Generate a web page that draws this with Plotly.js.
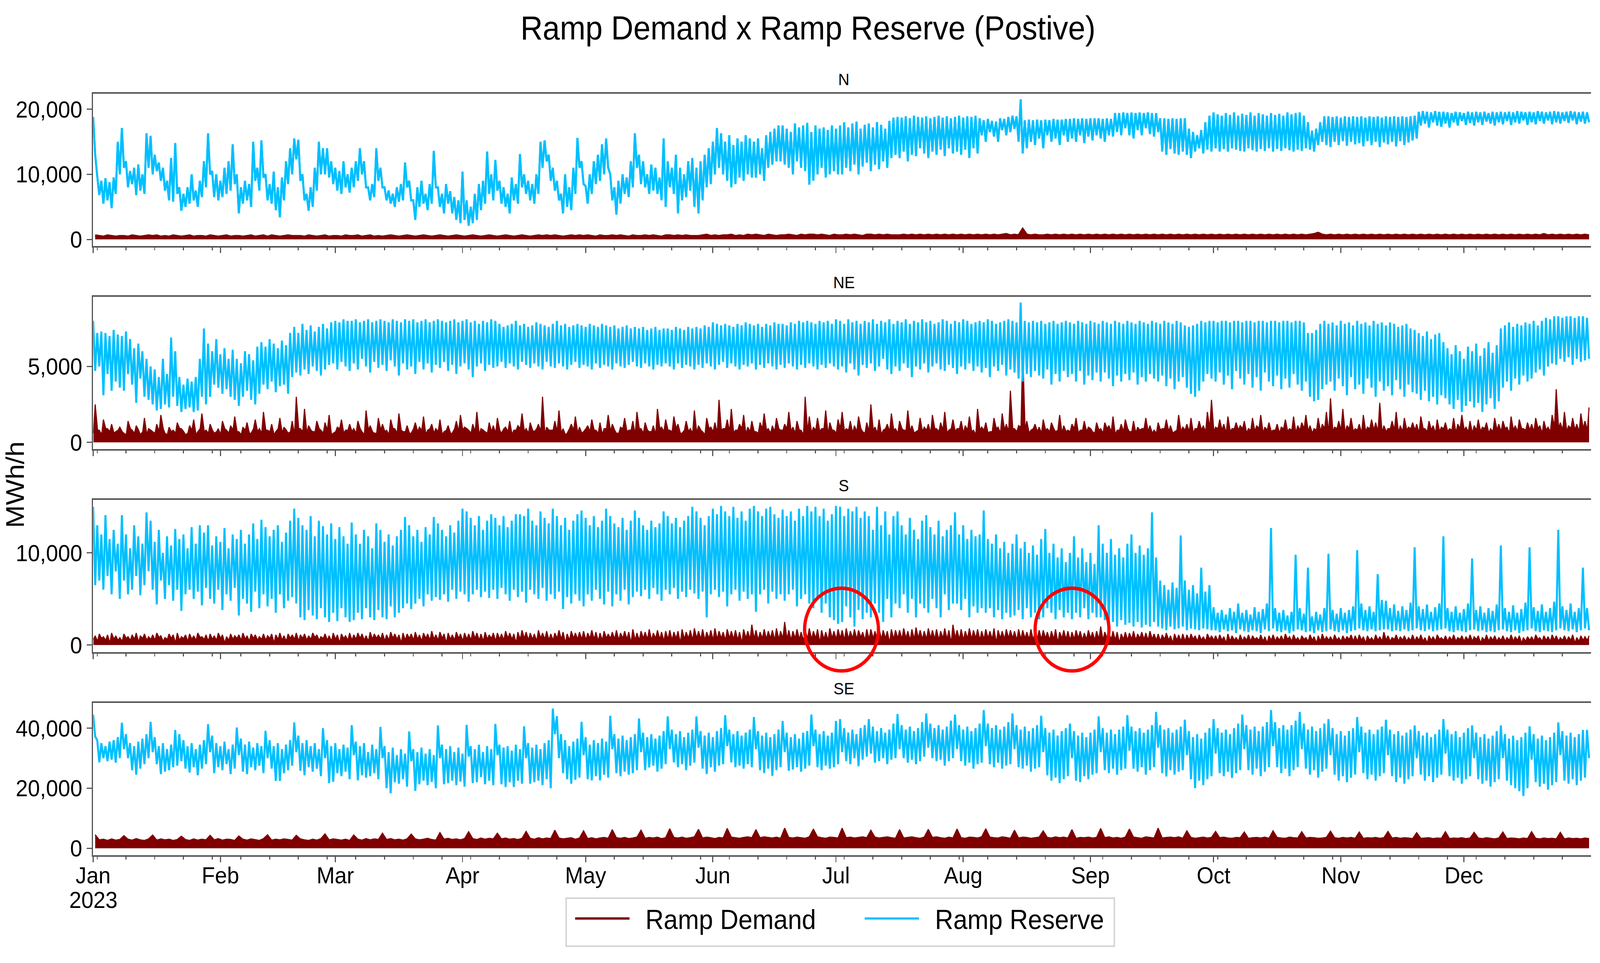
<!DOCTYPE html>
<html>
<head>
<meta charset="utf-8">
<script src="https://cdn.plot.ly/plotly-3.0.1.min.js"></script>
<style>
html,body{margin:0;padding:0;background:#fff;overflow:hidden;}
#wrap{position:absolute;left:0;top:0;width:100vw;height:100vh;overflow:hidden;background:#fff;}
#chart{width:4415px;height:2466px;transform-origin:0 0;}
</style>
</head>
<body>
<div id="wrap"><div id="chart"></div></div>
<script>
// ---- DATA (values in hundreds of MWh/h) ----
// Ramp Reserve: two readings per day (daily high, daily low), weekly rows starting Sun 2023-01-01
const nBlue = [
188,130,97,68,90,55,94,60,88,48,95,70,150,100,
171,110,120,80,105,85,110,68,115,75,100,70,163,110,
159,100,130,105,118,90,110,75,90,60,125,58,148,70,
80,44,70,50,80,55,100,60,75,50,90,65,120,80,
163,100,105,65,100,60,90,65,110,70,120,75,146,85,
100,40,80,55,90,60,85,50,150,90,110,75,152,95,
100,60,85,55,104,45,80,34,95,60,120,85,140,100,
155,123,153,90,100,60,70,44,80,50,110,75,150,100,
140,100,140,95,120,85,110,75,105,70,120,80,100,72,
110,80,120,90,140,100,120,80,80,60,85,65,140,90,
110,80,80,60,75,55,70,50,80,58,85,60,118,80,
90,60,60,30,80,50,90,55,70,45,85,55,136,80,
80,50,70,40,85,55,74,40,65,30,60,25,104,30,
60,21,50,25,70,30,85,45,90,55,135,70,100,60,
122,75,90,55,80,50,70,40,95,60,85,55,131,80,
100,70,90,60,85,55,100,70,150,110,152,120,130,90,
110,75,90,60,70,40,100,50,80,45,110,70,156,110,
120,85,82,55,100,70,120,85,130,90,146,100,155,110,
100,60,80,38,90,55,100,70,95,65,120,80,163,110,
130,85,120,80,100,70,115,75,110,70,95,60,155,50,
120,80,110,70,130,40,110,60,100,65,120,75,125,50,
110,40,120,60,130,80,140,85,150,100,171,110,163,100,
150,90,160,80,145,85,155,95,150,90,160,100,155,95,
150,95,155,100,140,90,160,110,165,115,170,120,175,120,
175,115,170,110,165,100,178,120,172,110,175,105,179,84,
165,90,175,100,170,110,172,95,168,100,175,105,170,100,
175,100,180,110,172,105,178,115,181,100,170,112,176,118,
178,105,172,115,180,108,176,120,170,110,182,125,187,130,
188,125,187,135,189,120,186,130,190,128,188,140,187,132,
189,125,186,135,188,130,190,138,187,128,189,140,186,132,
188,135,190,130,187,138,189,125,188,140,190,132,186,160,
183,150,185,165,182,158,181,150,186,168,185,160,188,165,
190,170,189,150,215,132,183,140,184,150,183,145,184,155,
183,140,184,160,183,150,185,155,184,145,184,160,185,150,
185,155,186,150,185,160,186,148,185,158,186,152,186,160,
186,155,185,150,186,160,185,158,194,165,194,160,195,171,
194,160,195,155,194,168,195,160,194,171,195,162,194,158,
194,165,186,135,186,130,185,139,186,132,185,130,186,135,
186,130,170,125,165,135,160,140,168,132,180,138,190,135,
195,140,192,135,190,139,194,135,191,140,195,138,190,136,
193,135,191,140,195,137,190,135,194,139,192,136,190,140,
194,135,191,139,193,136,190,140,195,137,192,135,194,138,
195,136,190,140,180,138,167,135,170,145,180,150,189,145,
189,142,188,150,189,145,187,151,189,144,188,150,189,146,
188,148,189,143,187,151,189,145,188,150,189,142,187,149,
189,146,188,150,189,143,188,151,189,145,188,149,189,152,
190,155,196,175,197,178,196,172,195,180,197,175,196,173,
196,178,195,172,194,180,196,175,195,182,194,176,196,179,
195,175,196,180,195,176,196,181,194,178,196,175,195,180,
196,177,195,182,196,176,195,180,197,178,196,183,195,176,
196,180,195,177,197,182,196,178,195,183,196,177,197,180,
196,178,195,182,196,179,197,183,196,177,195,181,196,178,
195,180
];
const neBlue = [
80,47,72,50,73,31,72,45,70,34,74,40,71,36,
70,34,73,45,68,38,62,26,65,42,60,30,55,28,
50,25,48,21,43,22,55,25,45,23,69,30,60,24,
43,20,38,22,42,23,40,20,43,21,55,30,75,25,
65,30,60,38,68,36,58,32,62,35,55,30,61,28,
55,24,52,30,60,34,58,28,54,25,63,32,66,38,
63,35,68,40,65,33,62,37,67,38,64,32,72,43,
76,46,72,44,78,48,74,45,77,50,73,47,76,44,
78,48,75,51,79,52,80,48,79,53,81,50,80,47,
80,52,81,48,79,55,80,50,81,46,79,53,80,49,
81,51,80,47,79,54,81,50,80,44,79,52,81,48,
80,50,81,45,79,53,80,48,81,52,79,46,80,51,
81,49,80,53,79,47,80,51,81,45,79,50,80,52,
81,48,79,43,80,50,78,52,80,47,79,51,81,49,
80,50,78,53,76,49,77,52,78,50,80,48,77,53,
78,51,76,49,77,52,79,50,78,48,77,53,76,50,
78,49,80,52,77,50,78,48,76,51,77,53,78,49,
77,51,76,50,78,48,77,52,76,49,78,51,77,50,
76,48,77,52,75,50,76,49,77,51,75,53,76,50,
75,49,76,52,74,50,75,48,76,51,74,50,75,52,
75,50,74,48,76,52,75,49,74,51,76,50,75,48,
76,51,75,49,77,52,76,50,79,48,78,51,77,53,
78,49,77,52,76,50,78,48,77,51,79,50,78,52,
77,48,78,51,76,49,78,52,77,50,79,48,78,51,
78,49,77,52,79,50,78,48,80,51,79,49,80,52,
79,50,78,48,80,51,79,49,80,52,78,50,81,48,
80,50,78,46,81,52,79,48,80,44,78,51,80,49,
79,52,81,47,78,50,80,55,79,48,81,45,78,50,
80,47,79,52,81,49,78,43,80,50,79,48,81,52,
79,46,80,50,78,52,79,48,81,47,80,51,78,49,
80,45,79,50,81,48,80,52,78,47,79,50,80,46,
79,49,81,43,80,50,78,47,79,51,80,44,81,48,
80,46,79,42,92,40,80,45,79,43,80,47,79,44,
80,42,78,48,79,38,80,45,78,40,79,47,80,43,
79,45,78,40,80,47,79,38,78,44,80,41,79,46,
78,40,80,46,79,42,78,37,80,44,79,40,78,45,
80,41,79,46,78,38,80,43,79,40,78,45,80,42,
79,40,78,44,80,37,79,42,78,35,80,40,79,43,
77,36,76,32,77,30,78,34,80,40,79,45,80,42,
80,40,79,46,80,38,80,44,79,35,80,47,80,42,
79,38,80,45,80,36,79,43,80,34,80,46,79,40,
80,37,80,44,79,35,80,42,80,36,79,45,80,38,
80,34,79,40,72,30,72,27,74,28,78,35,80,38,
78,40,79,34,77,42,80,37,78,31,79,43,77,35,
80,38,78,32,79,42,77,36,80,30,78,40,79,34,
77,37,79,31,78,41,76,35,77,30,78,38,75,33,
74,32,72,28,70,34,73,27,68,30,71,25,72,31,
66,29,62,25,58,22,64,28,60,20,55,24,63,27,
60,23,65,26,57,20,62,25,66,29,59,22,64,27,
75,36,77,40,79,34,76,42,78,38,77,44,79,40,
78,42,80,46,77,48,80,44,82,50,81,52,83,51,
83,55,82,53,83,56,83,51,82,55,83,53,83,54,
82,55
];
const sBlue = [
150,65,130,70,120,60,141,75,115,55,125,80,110,50,
141,70,120,55,105,60,130,75,118,54,110,65,144,80,
135,60,112,44,125,70,100,50,118,65,108,48,126,60,
115,37,120,55,105,60,128,50,110,58,130,43,122,62,
130,50,108,45,118,60,112,38,127,55,105,48,120,62,
115,32,125,50,110,45,120,36,132,58,115,40,136,55,
128,42,118,50,125,35,130,55,112,40,122,48,135,52,
148,45,138,30,130,27,125,38,140,32,118,28,135,40,
129,30,120,25,132,35,115,26,128,40,118,30,110,25,
133,27,120,35,110,28,125,40,118,30,105,27,132,38,
125,30,112,28,120,42,108,30,118,35,125,40,139,45,
130,39,118,45,125,50,112,42,128,55,120,48,139,52,
132,49,125,55,118,47,130,60,122,50,135,58,148,55,
145,47,138,55,130,60,140,52,125,58,135,51,142,60,
138,50,130,62,140,55,128,48,135,60,142,52,142,58,
140,46,148,60,135,55,130,50,145,62,138,48,132,55,
148,50,140,58,130,39,138,52,125,45,135,55,142,48,
146,42,138,55,130,48,140,60,128,50,135,44,148,58,
140,42,132,55,128,48,138,60,125,44,135,52,146,58,
138,53,130,60,125,50,135,62,128,55,132,48,145,60,
140,55,132,62,138,50,128,58,135,52,140,60,150,56,
145,50,138,58,130,30,140,55,148,60,142,52,151,58,
145,42,140,55,150,60,138,48,145,58,135,50,148,55,
151,36,145,55,140,60,148,45,150,58,142,50,138,55,
147,48,140,55,145,60,135,42,148,50,140,55,151,45,
145,40,150,50,140,35,148,45,135,30,142,27,151,23,
150,25,140,42,148,30,145,20,150,38,138,28,145,35,
140,30,125,45,150,35,130,25,145,50,120,30,140,45,
145,40,130,55,120,35,138,50,125,30,115,45,135,40,
141,35,128,50,120,40,135,30,118,55,125,38,130,45,
144,45,120,38,130,50,115,30,125,42,118,35,120,40,
146,35,115,40,110,30,120,38,105,28,112,35,100,30,
110,32,120,38,105,28,112,40,100,30,108,35,98,28,
115,30,126,40,100,35,110,28,95,38,105,30,90,35,
100,28,118,35,95,30,105,40,90,28,100,35,88,30,
130,30,110,27,100,22,115,25,98,20,105,27,95,22,
110,24,120,20,100,25,108,19,98,22,105,20,144,25,
95,20,70,18,65,16,60,20,68,17,62,18,119,20,
70,16,60,18,65,17,56,16,84,18,58,17,65,16,
41,16,35,14,38,17,33,15,40,16,36,13,45,17,
35,15,38,14,33,16,41,15,36,13,39,17,45,15,
127,18,40,15,35,14,38,16,32,13,36,15,98,17,
40,16,34,14,84,15,31,13,36,16,33,14,40,15,
99,17,38,15,34,14,40,16,35,13,38,15,42,16,
103,18,45,16,38,15,42,17,36,15,77,16,49,17,
48,17,40,15,44,16,37,15,42,17,38,15,46,16,
106,18,42,16,39,15,44,17,36,15,41,16,45,17,
118,18,40,15,36,14,42,16,35,15,39,14,45,16,
94,17,38,15,42,16,35,14,40,15,37,14,44,16,
108,17,40,15,36,14,43,16,35,13,39,15,46,16,
106,18,41,15,37,14,44,16,36,15,40,14,47,16,
125,18,42,16,38,15,45,17,36,14,40,16,84,18,
40,16
];
const seBlue = [
445,372,360,286,350,300,340,290,355,295,360,285,370,300,
418,330,380,300,350,260,340,245,355,265,365,280,380,300,
421,320,370,280,340,247,350,255,330,260,345,270,394,275,
380,290,360,265,340,252,350,270,330,243,345,265,360,280,
413,320,375,250,350,270,340,260,355,280,330,247,345,265,
402,310,365,255,345,247,355,270,335,260,350,275,340,250,
391,300,360,265,340,224,350,224,330,250,345,260,360,275,
419,320,375,258,350,243,360,270,340,255,350,265,330,240,
400,300,360,217,340,221,350,250,330,240,345,255,335,230,
410,310,355,226,340,243,350,235,320,240,345,250,330,230,
404,300,340,200,320,183,335,220,310,215,330,230,315,205,
389,290,330,191,320,213,335,225,315,210,330,221,310,200,
409,300,345,213,330,217,340,225,320,210,335,222,315,205,
411,305,340,217,330,220,345,237,320,213,340,225,330,210,
414,310,345,213,335,204,340,220,325,204,345,225,330,215,
406,300,350,215,335,220,345,225,330,210,350,230,360,200,
465,380,440,300,380,250,360,230,340,215,355,228,365,235,
421,310,370,230,345,226,360,240,350,226,365,245,355,235,
441,330,380,250,365,240,375,255,360,245,370,250,380,260,
432,320,385,260,370,269,380,275,365,255,375,265,390,280,
439,330,395,286,380,270,390,280,370,260,385,275,395,285,
439,335,390,265,375,247,385,270,370,255,390,275,400,280,
443,340,395,286,380,270,390,275,375,265,385,280,395,270,
437,330,390,260,375,250,385,265,370,241,380,260,395,270,
424,320,385,258,370,262,380,270,365,255,385,265,390,275,
445,340,395,270,380,260,390,275,375,265,385,270,424,280,
430,320,400,290,385,280,395,300,380,273,400,295,410,305,
430,315,405,285,390,290,400,300,385,280,395,295,415,300,
447,330,410,300,395,285,405,295,390,280,400,290,420,305,
449,335,415,300,400,290,410,295,395,275,405,290,425,300,
445,330,410,290,395,275,405,285,390,265,400,280,415,285,
460,340,415,280,400,270,410,285,395,265,405,275,420,280,
449,330,410,270,395,265,405,275,390,255,400,265,410,270,
441,320,400,243,385,225,395,235,375,217,390,230,400,240,
415,300,390,225,375,220,385,240,370,230,385,245,395,250,
439,320,400,260,385,250,395,265,380,245,395,260,405,265,
443,325,405,265,390,255,400,270,385,245,395,260,410,270,
454,335,410,250,395,239,400,260,385,245,395,255,405,260,
428,310,390,230,370,200,380,225,365,210,385,230,400,240,
430,315,400,250,385,240,395,255,380,234,400,250,415,260,
445,330,410,260,395,245,405,265,390,240,405,255,420,270,
460,340,420,270,400,250,410,265,395,240,410,260,425,270,
454,330,415,265,395,245,405,260,390,235,400,255,415,265,
430,310,400,245,380,225,390,240,375,220,390,235,400,245,
437,320,405,250,385,230,395,245,380,225,395,240,405,250,
428,310,395,240,380,220,390,235,375,215,385,230,395,240,
409,300,390,245,375,225,385,240,370,220,380,235,395,245,
430,315,395,240,380,225,390,235,370,215,385,230,400,240,
409,300,385,230,370,215,380,225,365,205,375,220,390,230,
409,300,380,225,365,210,375,200,360,190,370,174,385,200,
406,295,380,220,365,205,375,215,360,195,370,210,385,220,
419,310,390,225,375,215,385,230,370,210,380,225,394,235,
394,300
];
// Ramp Demand: daily peak, weekly rows
const nRed = [
6,5,4,6,5,4,5, 5,4,6,5,4,5,6, 5,6,4,5,4,6,5, 4,5,6,4,5,5,4, 6,5,4,5,6,4,5,
5,4,5,6,4,5,6, 4,6,5,4,5,6,5, 5,5,4,6,5,4,5, 6,4,5,5,4,6,5, 5,6,4,5,6,4,5,
4,5,6,5,4,5,6, 5,4,5,6,5,4,5, 6,5,4,5,6,5,4, 5,6,5,4,5,6,5, 4,5,6,5,4,5,6,
5,4,5,6,5,6,5, 6,5,4,5,6,5,6, 5,6,5,4,6,5,5, 6,5,6,5,4,6,5, 5,6,5,6,5,4,6,
6,5,6,5,6,5,5, 5,6,7,5,6,5,6, 6,7,5,6,5,7,6, 7,6,5,7,6,5,6, 6,7,6,5,7,6,7,
7,6,7,6,5,7,6, 6,7,6,7,6,5,7, 7,6,7,6,7,6,6, 6,7,6,7,6,7,6, 7,6,7,6,7,6,7,
6,7,6,7,6,7,6, 7,6,7,6,7,8,6, 7,6,16,7,6,7,6, 6,7,6,7,6,7,6, 7,6,7,6,7,6,7,
6,7,6,7,6,7,6, 7,6,7,6,7,6,7, 6,7,6,7,6,7,6, 7,6,7,6,7,6,7, 6,7,6,7,6,7,6,
7,6,7,6,7,6,7, 6,7,6,7,6,7,6, 7,6,7,8,10,7,6, 7,6,7,6,7,6,7, 6,7,6,7,6,7,6,
7,6,7,6,7,6,7, 6,7,6,7,6,7,6, 7,6,7,6,7,6,7, 6,7,6,7,6,7,6, 7,6,7,6,7,6,7,
6,7,6,8,6,7,6, 7,6,7,6,7,6,7, 6
];
const neRed = [
25,8,15,9,12,7,10, 6,14,8,11,5,16,9, 7,12,18,6,10,8,13, 9,5,11,15,7,19,8, 12,6,9,14,8,11,17,
7,10,13,6,15,9,20, 8,12,7,16,10,6,14, 30,9,22,11,7,14,8, 13,18,6,10,15,8,12, 9,14,7,21,11,6,16,
12,8,15,9,19,7,11, 6,13,10,17,8,12,9, 15,7,11,6,14,18,10, 8,12,20,9,7,13,11, 16,6,10,14,8,11,19,
9,13,7,12,30,10,8, 14,21,9,6,12,17,10, 7,11,15,8,13,9,18, 12,6,10,16,8,14,20, 9,13,7,11,22,10,15,
8,17,12,6,14,9,21, 11,7,16,10,13,28,9, 15,22,8,12,18,10,14, 7,13,19,9,11,16,8, 12,20,10,14,8,30,17,
10,16,9,21,13,8,15, 20,9,14,11,17,7,13, 25,10,15,8,12,19,9, 14,8,21,11,7,16,10, 12,18,9,13,20,8,15,
9,14,11,17,8,22,10, 13,7,16,10,19,12,34, 9,11,61,14,8,12,10, 15,9,13,7,18,11,8, 12,16,8,14,10,7,13,
9,13,11,17,8,12,15, 7,14,10,9,16,11,8, 13,9,15,11,7,18,10, 12,16,9,14,11,20,28, 10,15,12,17,9,13,11,
14,9,16,11,18,10,13, 8,12,10,15,9,17,11, 13,18,11,9,16,12,20, 29,10,14,22,11,16,9, 12,18,10,15,13,26,11,
9,14,20,11,16,10,13, 12,17,9,14,11,15,10, 13,9,16,12,18,10,14, 11,15,10,13,9,16,12, 14,10,17,11,15,9,13,
12,16,11,14,10,18,35, 13,20,11,16,12,19,14, 23
];
// Ramp Demand: daily trough for NE
const neRedLo = [
6,8,5,9,7,6,8, 7,5,9,6,8,7,5, 8,6,7,9,5,7,6, 9,7,6,8,5,9,7, 6,8,7,5,9,6,8,
7,5,8,6,9,7,6, 8,7,5,9,6,8,7, 5,9,7,6,8,7,9, 6,8,5,7,9,6,8, 7,6,9,5,8,7,6,
8,7,5,9,6,8,7, 6,9,7,8,5,9,6, 7,5,8,6,9,7,8, 9,6,7,5,8,6,7, 6,8,9,7,5,8,9,
7,6,8,9,7,5,8, 8,7,6,5,9,8,6, 6,9,7,8,6,5,9, 7,8,6,9,7,8,5, 9,6,8,7,5,9,7,
8,7,9,6,8,7,6, 6,8,5,9,7,6,8, 9,7,6,8,9,5,7, 7,6,9,8,6,7,9, 8,9,7,6,8,5,7,
6,8,7,9,5,8,6, 9,7,8,6,7,9,6, 7,8,6,5,9,7,8, 6,9,8,7,6,8,7, 8,6,9,7,8,6,9,
7,9,6,8,7,5,8, 8,6,7,9,6,8,7, 9,7,10,8,6,9,7, 6,8,7,9,8,6,7, 7,9,6,8,7,9,6,
8,6,9,7,5,8,7, 9,7,6,8,9,7,6, 6,8,9,7,6,8,7, 8,7,6,9,8,7,9, 7,9,8,6,7,9,8,
9,6,8,7,9,6,8, 7,8,6,9,7,8,6, 8,9,7,6,8,7,9, 6,7,9,8,6,9,7, 8,6,7,9,8,7,6,
7,9,8,6,7,8,9, 8,6,9,7,8,6,7, 9,7,8,6,9,8,7, 6,8,7,9,6,7,8, 7,9,6,8,7,9,8,
8,7,9,6,8,7,10, 9,8,7,9,8,7,9, 8
];
const sRed = [
10,12,9,11,13,10,8, 12,9,11,13,10,12,9, 11,13,10,8,12,11,13, 9,11,12,10,13,9,11, 12,10,13,11,9,12,10,
11,13,10,12,11,9,12, 10,12,11,13,10,12,11, 13,11,12,10,13,11,9, 12,10,13,11,12,10,13, 11,13,12,10,14,12,11,
13,11,14,12,11,13,12, 12,14,11,13,12,15,11, 14,12,13,11,14,12,13, 12,15,13,12,14,11,13, 13,12,15,13,12,14,16,
14,13,12,16,13,15,12, 13,16,14,12,15,13,14, 15,13,16,14,13,15,12, 14,16,13,15,14,17,13, 15,14,17,13,16,14,15,
16,14,15,17,14,16,18, 15,17,14,16,18,15,14, 17,15,16,14,17,15,22, 16,14,17,15,16,18,15, 25,16,15,17,14,16,18,
15,17,16,14,18,15,17, 16,18,15,17,16,14,17, 17,15,18,16,15,17,16, 16,18,15,17,19,16,15, 18,16,17,15,18,16,22,
16,17,15,18,16,17,15, 17,15,18,16,15,17,16, 15,17,16,14,17,15,16, 16,14,15,17,14,16,15, 14,16,15,13,16,14,15,
20,14,13,15,14,12,14, 13,15,12,14,13,15,12, 12,11,13,10,12,11,12, 11,12,10,11,9,12,10, 10,11,9,12,10,8,11,
9,11,10,8,11,9,10, 11,9,10,12,9,11,8, 10,8,11,9,10,12,9, 9,11,8,10,9,11,10, 11,9,10,8,11,9,14,
10,8,11,9,10,8,11, 9,11,8,10,9,11,8, 10,9,11,8,10,9,11, 9,10,8,11,9,10,8, 10,8,11,9,10,8,9,
9,11,8,10,9,11,10, 8,10,9,11,8,10,9, 10
];
// Ramp Demand: daily trough for S
const sRedLo = [
6,4,7,5,2,6,5, 4,7,5,6,3,7,5, 6,5,8,4,6,7,2, 5,7,4,6,5,8,6, 4,6,5,7,2,5,6,
7,5,6,4,7,5,6, 5,7,2,6,5,4,7, 6,4,7,5,6,8,5, 7,5,4,6,2,7,5, 5,6,7,5,4,6,7,
6,4,5,7,6,2,5, 7,5,6,4,7,5,6, 5,7,2,6,5,7,4, 6,5,7,5,4,6,7, 4,6,5,7,6,2,6,
7,5,6,4,7,6,5, 5,7,6,2,5,7,6, 6,5,7,6,4,5,7, 7,6,5,7,6,2,5, 5,7,6,5,7,6,4,
6,5,7,2,6,7,5, 7,6,5,7,5,6,7, 5,7,6,5,2,7,6, 6,5,7,6,7,5,6, 7,6,5,7,6,5,7,
6,7,2,6,5,7,6, 7,5,6,7,6,8,5, 6,7,5,6,7,2,6, 7,6,7,5,6,7,6, 6,7,6,5,7,6,2,
7,6,5,7,6,7,5, 6,7,6,2,7,6,7, 7,5,6,7,6,5,7, 6,7,5,6,2,7,6, 5,6,7,5,6,7,5,
6,5,7,6,5,2,6, 5,6,5,7,6,5,6, 5,4,6,5,2,5,4, 4,5,6,4,5,4,6, 5,4,5,2,4,5,4,
4,5,4,6,5,4,2, 5,4,5,4,6,4,5, 4,6,4,5,2,4,5, 5,4,5,4,5,6,4, 4,5,2,5,4,5,4,
5,4,6,4,5,4,5, 4,5,4,2,5,4,6, 5,4,5,4,6,4,5, 4,6,2,5,4,5,4, 5,4,5,4,5,2,4,
5,4,6,4,5,4,5, 4,5,4,5,2,4,5, 5
];
const seRed = [
45,28,30,26,31,27,29, 42,30,27,32,28,26,31, 44,27,31,28,30,26,29, 40,29,26,31,27,30,28, 43,28,32,27,30,29,26,
41,30,27,31,28,26,32, 45,27,30,28,31,29,27, 43,31,28,26,30,27,32, 48,28,31,29,27,30,26, 44,30,27,32,28,31,29,
50,29,32,28,30,27,31, 47,31,28,30,33,29,27, 52,30,33,29,31,28,32, 55,32,29,34,30,33,31, 50,31,34,30,32,29,33,
56,33,30,35,31,34,32, 60,34,31,33,35,30,34, 58,32,35,31,34,36,33, 62,35,33,36,32,34,37, 60,33,36,34,37,32,35,
65,36,34,37,33,35,38, 63,34,37,35,32,36,34, 66,37,35,33,36,38,35, 62,35,38,36,34,37,33, 67,36,34,37,35,33,38,
64,38,35,33,37,36,34, 67,35,37,34,36,38,35, 60,37,34,36,38,35,33, 62,34,36,38,35,33,37, 63,36,38,35,33,37,34,
64,35,33,37,36,34,38, 65,37,35,34,38,36,33, 60,34,37,36,33,35,37, 58,36,34,38,35,37,34, 62,33,36,35,37,34,36,
66,35,38,34,36,33,37, 64,37,35,33,38,36,34, 67,34,36,37,35,38,33, 58,36,33,35,37,34,36, 56,35,37,34,33,36,35,
54,33,35,36,34,37,33, 58,36,34,33,37,35,34, 55,34,36,35,33,34,36, 57,35,33,36,34,36,33, 54,33,35,34,36,33,35,
56,34,36,33,35,34,32, 52,33,34,35,32,34,33, 55,32,34,33,35,32,34, 53,34,32,35,33,31,34, 54,32,34,33,31,34,32,
55,33,31,34,32,33,31, 53,31,34,32,33,31,34, 32
];
const regions = ['N', 'NE', 'S', 'SE'];
const yTickVals = [[0, 10000, 20000], [0, 5000], [0, 10000], [0, 20000, 40000]];
const yRanges = [[-1020, 22380], [-444, 9582], [-773, 15760], [-2320, 48390]];
const monthTickVals = ['2023-01-01','2023-02-01','2023-03-01','2023-04-01','2023-05-01','2023-06-01',
  '2023-07-01','2023-08-01','2023-09-01','2023-10-01','2023-11-01','2023-12-01'];
const monthTickText = ['Jan','Feb','Mar','Apr','May','Jun','Jul','Aug','Sep','Oct','Nov','Dec'];
const yearLabel = '2023';

// ---- BUILD ----
const UNIT = 100;
const T0 = Date.UTC(2023, 0, 1);
const HOUR = 3600000;
function iso(ms) { return new Date(ms).toISOString().slice(0, 19).replace('T', ' '); }
function xHalfDay(n) { return Array.from({length: n}, (_, i) => iso(T0 + i * 12 * HOUR)); }
function xDaily(n) { return Array.from({length: n}, (_, i) => iso(T0 + 12 * HOUR + i * 24 * HOUR)); }
const scale = a => a.map(v => v * UNIT);
function redSeries(hi, lo) {
  if (!lo) return {x: xDaily(hi.length), y: scale(hi)};
  const x = [], y = [];
  for (let i = 0; i < hi.length; i++) {
    x.push(iso(T0 + i * 24 * HOUR + 2 * HOUR)); y.push(lo[i] * UNIT);
    x.push(iso(T0 + i * 24 * HOUR + 12 * HOUR)); y.push(hi[i] * UNIT);
  }
  return {x, y};
}

const blueSets = [nBlue, neBlue, sBlue, seBlue];
const redSets = [[nRed, null], [neRed, neRedLo], [sRed, sRedLo], [seRed, null]];
const RED = '#800000', BLUE = '#00BFFF';
const traces = [];
for (let p = 0; p < 4; p++) {
  const sfx = p === 0 ? '' : String(p + 1);
  const rs = redSeries(redSets[p][0], redSets[p][1]);
  const b = blueSets[p];
  traces.push({type: 'scatter', mode: 'lines', x: rs.x, y: rs.y, xaxis: 'x' + sfx, yaxis: 'y' + sfx,
    fill: 'tozeroy', fillcolor: RED, line: {color: RED, width: 3}, showlegend: false, name: 'Ramp Demand', hoverinfo: 'skip'});
  if (p === 0) {
    traces.push({type: 'scatter', mode: 'lines', x: rs.x, y: rs.y, xaxis: 'x', yaxis: 'y',
      line: {color: RED, width: 6}, showlegend: true, name: '\u00a0\u00a0Ramp Demand'});
  }
  traces.push({type: 'scatter', mode: 'lines', x: xHalfDay(b.length), y: scale(b), xaxis: 'x' + sfx, yaxis: 'y' + sfx,
    line: {color: BLUE, width: 5.5}, showlegend: false, name: 'Ramp Reserve'});
}
// legend entry for Ramp Reserve drawn with the N reserve series (identical overlay)
traces.push({type: 'scatter', mode: 'lines', x: xHalfDay(nBlue.length), y: scale(nBlue), xaxis: 'x', yaxis: 'y',
  line: {color: BLUE, width: 5.5}, showlegend: true, name: '\u00a0\u00a0Ramp Reserve'});

const AX = '#555';
const domains = [[0.8, 1.0], [0.5333, 0.7333], [0.2667, 0.4667], [0, 0.2]];
const layout = {
  width: 4415, height: 2466,
  margin: {l: 257, r: 25, t: 240, b: 276, pad: 0},
  paper_bgcolor: '#fff', plot_bgcolor: '#fff',
  font: {family: 'Liberation Sans, Arial, sans-serif', size: 60, color: '#000'},
  title: {text: 'Ramp Demand x Ramp Reserve (Postive)', font: {size: 85, color: '#000'},
    x: 0.505, xanchor: 'center', y: 0.971, yanchor: 'middle', yref: 'container'},
  showlegend: true,
  legend: {orientation: 'h', x: 0.3206, xanchor: 'left', y: -0.0564, yanchor: 'top',
    borderwidth: 0, bgcolor: 'rgba(0,0,0,0)', font: {size: 70}, itemwidth: 150,
    entrywidth: 634, entrywidthmode: 'pixels', traceorder: 'normal', valign: 'middle'},
  annotations: [],
  shapes: [
    // legend frame
    {type: 'rect', xref: 'paper', yref: 'paper', x0: 0.3158, x1: 0.6818, y0: -0.1195, y1: -0.0564,
      line: {color: '#d4d4d4', width: 4}, fillcolor: 'rgba(0,0,0,0)', layer: 'below'},
    // red highlight circles
    {type: 'circle', xref: 'paper', yref: 'paper', x0: 0.4750, x1: 0.5243, y0: 0.2420, y1: 0.3507, line: {color: '#ff0000', width: 9}},
    {type: 'circle', xref: 'paper', yref: 'paper', x0: 0.6289, x1: 0.6782, y0: 0.2420, y1: 0.3507, line: {color: '#ff0000', width: 9}}
  ]
};
for (let p = 0; p < 4; p++) {
  const sfx = p === 0 ? '' : String(p + 1);
  layout['xaxis' + sfx] = {
    type: 'date', anchor: 'y' + sfx, domain: [0, 1], range: ['2023-01-01 00:00', '2023-12-31 23:00'],
    tickmode: 'array', tickvals: monthTickVals, ticktext: monthTickText,
    ticks: 'outside', ticklen: 14, tickwidth: 3, tickcolor: AX, ticklabelstandoff: -18,
    minor: {dtick: 7 * 86400000, tick0: '2023-01-02', ticks: 'outside', ticklen: 7, tickwidth: 3, tickcolor: AX, showgrid: false},
    showline: true, linecolor: AX, linewidth: 4, mirror: true,
    showgrid: false, zeroline: false, showticklabels: p === 3,
    tickfont: {size: 60}
  };
  if (p > 0) layout['xaxis' + sfx].matches = 'x';
  layout['yaxis' + sfx] = {
    anchor: 'x' + sfx, domain: domains[p], range: yRanges[p], tickmode: 'array', tickvals: yTickVals[p], tickformat: ',d',
    ticks: 'outside', ticklen: 14, tickwidth: 3, tickcolor: AX,
    showline: true, linecolor: AX, linewidth: 4, showgrid: false, zeroline: false,
    tickfont: {size: 60}
  };
  layout.annotations.push({text: regions[p], xref: 'paper', yref: 'paper', x: 0.5013, y: domains[p][1],
    xanchor: 'center', yanchor: 'middle', yshift: 37, showarrow: false, font: {size: 43}});
}
layout.annotations.push({text: yearLabel, xref: 'x4', yref: 'paper', x: monthTickVals[0], y: (2190 - 2304) / 1950,
  xanchor: 'center', yanchor: 'middle', showarrow: false, font: {size: 60}});
layout.annotations.push({text: 'MWh/h', xref: 'paper', yref: 'paper', x: (42 - 257) / 4133, y: 0.4867,
  xanchor: 'center', yanchor: 'middle', textangle: -90, showarrow: false, font: {size: 70}});

const kx = window.innerWidth / 4415, ky = window.innerHeight / 2466;
if (kx > 0 && ky > 0 && (Math.abs(kx - 1) > 0.001 || Math.abs(ky - 1) > 0.001)) {
  document.getElementById('chart').style.transform = 'scale(' + kx + ',' + ky + ')';
}
Plotly.newPlot('chart', traces, layout, {staticPlot: true, displayModeBar: false});
</script>
</body>
</html>
